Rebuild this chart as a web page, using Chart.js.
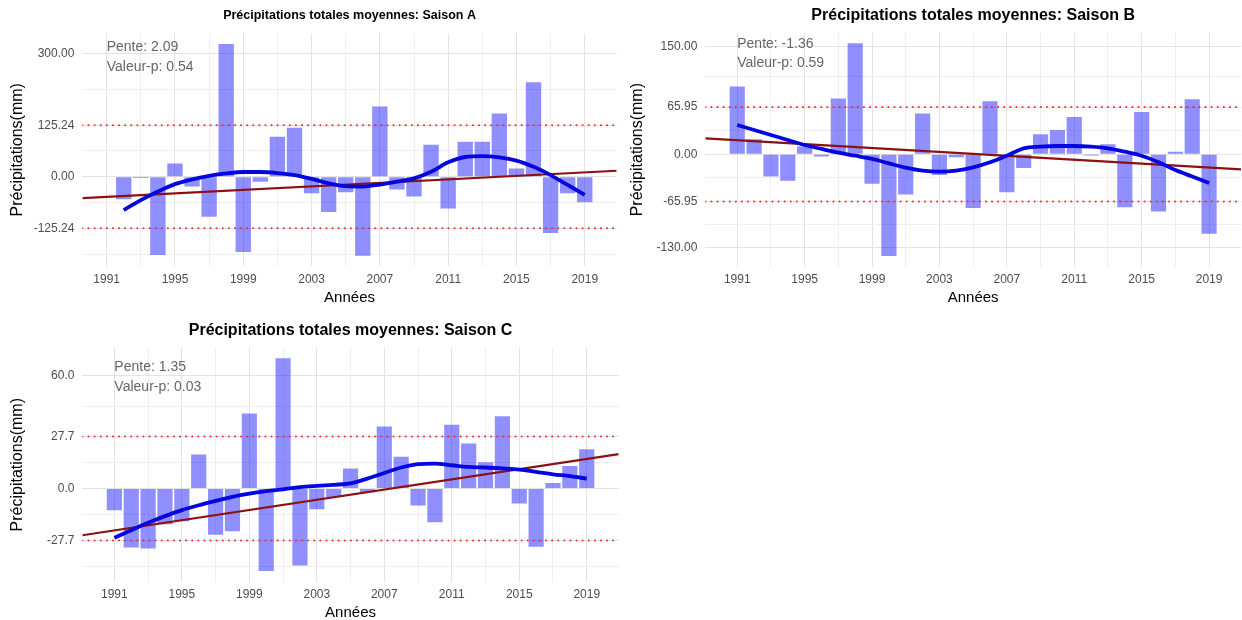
<!DOCTYPE html>
<html>
<head>
<meta charset="utf-8">
<script src="https://cdn.jsdelivr.net/npm/chart.js@4.4.1/dist/chart.umd.min.js"></script>
<style>
    body { margin: 0; background: #ffffff; }
    .panel { position: absolute; }
</style>
</head>
<body>
<div class="panel" style="left:0;top:0;width:620px;height:310px"><canvas id="chartA"></canvas></div>
<div class="panel" style="left:620px;top:0;width:622px;height:310px"><canvas id="chartB"></canvas></div>
<div class="panel" style="left:0;top:310px;width:620px;height:310px"><canvas id="chartC"></canvas></div>
<script>
// --- data ---
const yearsA = [1992, 1993, 1994, 1995, 1996, 1997, 1998, 1999, 2000, 2001, 2002, 2003, 2004, 2005,
    2006, 2007, 2008, 2009, 2010, 2011, 2012, 2013, 2014, 2015, 2016, 2017, 2018, 2019];
const yearsBC = [1991, 1992, 1993, 1994, 1995, 1996, 1997, 1998, 1999, 2000, 2001, 2002, 2003, 2004, 2005,
    2006, 2007, 2008, 2009, 2010, 2011, 2012, 2013, 2014, 2015, 2016, 2017, 2018, 2019];

const valuesA = [-55, -3, -190, 32, -24, -97, 323, -183, -12, 97, 119, -40, -86, -38,
    -192, 171, -31, -48, 78, -77, 85, 85, 154, 20, 230, -137, -40, -62];
const smoothA = [-81, -57, -36, -18, -6.5, 2, 8, 11.5, 11.5, 9, 4, -5, -16, -23,
    -24, -19, -12, -4, 12, 35, 48, 50, 47, 39, 24, 4, -20, -44];
const trendA = [-52, 14.6];
const thresholdA = 125.24;
const tickValuesA = [-125.24, 0, 125.24, 300];
const tickLabelsA = ['-125.24', '0.00', '125.24', '300.00'];
const notesA = ['Pente: 2.09', 'Valeur-p: 0.54'];

const valuesB = [94.6, 21, -31, -37, 11, -3, 78, 155, -41, -142, -56, 57, -29, -4, -75,
    74, -53, -19, 28, 34, 52, -1.8, 14, -74, 59, -80, 3.5, 77, -111];
const smoothB = [41, 34, 27, 20, 13, 7.5, 2.3, -2, -6.5, -12.6, -18.6, -22.8, -24.2, -22.8, -18.2,
    -11.2, -1.9, 8.4, 10.7, 11.6, 11.6, 10.7, 8.4, 3.7, -2, -11, -22, -31, -40];
const trendB = [22.3, -21];
const thresholdB = 65.95;
const tickValuesB = [-130, -65.95, 0, 65.95, 150];
const tickLabelsB = ['-130.00', '-65.95', '0.00', '65.95', '150.00'];
const notesB = ['Pente: -1.36', 'Valeur-p: 0.59'];

const valuesC = [-11.6, -31.5, -32, -19, -17.5, 18.2, -24.6, -22.8, 40, -44, 69.4, -41, -11, -4.5, 10.7,
    -2, 33, 17, -9, -18, 34, 24, 14, 38.5, -8, -31, 3, 12, 21];
const smoothC = [-26.3, -22.2, -18.3, -14.7, -11.5, -8.9, -6.6, -4.4, -2.7, -1.4, -0.4, 0.7, 1.4, 2, 2.7,
    5.3, 8.3, 11.2, 13, 13.3, 12.4, 11.5, 11.2, 10.7, 10.1, 8.9, 7.6, 6.6, 5.3];
const trendC = [-24.9, 18.3];
const thresholdC = 27.7;
const tickValuesC = [-27.7, 0, 27.7, 60];
const tickLabelsC = ['-27.7', '0.0', '27.7', '60.0'];
const notesC = ['Pente: 1.35', 'Valeur-p: 0.03'];

const xTickYears = [1991, 1995, 1999, 2003, 2007, 2011, 2015, 2019];

// --- styling ---
const FONT = "'Liberation Sans', Arial, sans-serif";
const GRID_MAJOR = '#e3e3e3';
const GRID_MINOR = '#efefef';

// ggplot-like 5% expansion of the data range
function expandRange(lo, hi) {
    const pad = (hi - lo) * 0.05;
    return [lo - pad, hi + pad];
}

// major ticks plus halfway minor ticks, kept inside the range
function withMinor(major, lo, hi) {
    const all = major.slice();
    for (let i = 0; i < major.length - 1; i++) all.push((major[i] + major[i + 1]) / 2);
    all.push(major[0] - (major[1] - major[0]) / 2);
    const n = major.length;
    all.push(major[n - 1] + (major[n - 1] - major[n - 2]) / 2);
    return all.filter(v => v >= lo && v <= hi).sort((a, b) => a - b);
}

const panelText = {
    id: 'panelText',
    afterDraw(chart, args, opts) {
        const {ctx, chartArea, scales} = chart;
        ctx.save();
        ctx.textBaseline = 'middle';
        ctx.textAlign = 'center';
        ctx.fillStyle = '#000000';
        ctx.font = `bold ${opts.titleSize}px ${FONT}`;
        ctx.fillText(opts.title, (chartArea.left + chartArea.right) / 2, opts.titleY);

        ctx.textAlign = 'left';
        ctx.fillStyle = '#666666';
        ctx.font = `14px ${FONT}`;
        const x = scales.x.getPixelForValue(opts.noteYear);
        opts.notes.forEach((t, i) => ctx.fillText(t, x, chartArea.top + opts.noteOffsets[i]));
        ctx.restore();
    }
};

function makePanel(id, p) {
    const ctx = document.getElementById(id)?.getContext('2d');
    if (!ctx) return;

    const xr = expandRange(Math.min(p.years[0] - 0.45, 1991), p.years[p.years.length - 1] + 0.45);
    const yr = expandRange(Math.min(...p.values), Math.max(...p.values));
    const xGrid = [];
    for (let v = 1991; v <= 2019; v += 2) xGrid.push(v);
    const yGrid = withMinor(p.tickValues, yr[0], yr[1]);

    const bars = p.years.map((y, i) => ({x: y, y: p.values[i]}));
    const smooth = p.years.map((y, i) => ({x: y, y: p.smooth[i]}));
    const trend = [{x: xr[0], y: p.trend[0]}, {x: xr[1], y: p.trend[1]}];
    const upper = [{x: xr[0], y: p.threshold}, {x: xr[1], y: p.threshold}];
    const lower = [{x: xr[0], y: -p.threshold}, {x: xr[1], y: -p.threshold}];

    const dotted = {
        type: 'line',
        borderColor: '#ee3030',
        borderWidth: 2,
        borderDash: [0.1, 6],
        borderCapStyle: 'round',
        pointRadius: 0,
        order: 2
    };

    return new Chart(ctx, {
        type: 'bar',
        data: {
            datasets: [
                {type: 'line', data: smooth, borderColor: '#0505e0', borderWidth: 3.8, pointRadius: 0,
                    tension: 0.4, cubicInterpolationMode: 'monotone', order: 0},
                {type: 'line', data: trend, borderColor: '#8b1010', borderWidth: 2.2, pointRadius: 0, order: 1},
                Object.assign({data: upper}, dotted),
                Object.assign({data: lower}, dotted),
                {type: 'bar', data: bars, backgroundColor: 'rgba(0, 0, 255, 0.44)', borderWidth: 0,
                    barPercentage: 0.9, categoryPercentage: 1.0, order: 5}
            ]
        },
        options: {
            responsive: true,
            maintainAspectRatio: false,
            animation: false,
            layout: {padding: {top: p.padTop, right: p.padRight, left: 0, bottom: 0}},
            plugins: {
                legend: {display: false},
                tooltip: {enabled: false},
                panelText: {
                    title: p.title, titleSize: p.titleSize, titleY: p.titleY,
                    notes: p.notes, noteYear: 1991, noteOffsets: p.noteOffsets
                }
            },
            scales: {
                x: {
                    type: 'linear',
                    min: xr[0],
                    max: xr[1],
                    offset: false,
                    afterBuildTicks: s => { s.ticks = xGrid.map(v => ({value: v})); },
                    afterFit: s => { s.height = p.xAxisHeight; },
                    ticks: {
                        autoSkip: false,
                        maxRotation: 0,
                        padding: 6,
                        color: '#4d4d4d',
                        font: {family: FONT, size: 12},
                        callback: v => xTickYears.includes(v) ? String(v) : ''
                    },
                    grid: {
                        offset: false,
                        drawTicks: false,
                        color: c => xTickYears.includes(c.tick?.value) ? GRID_MAJOR : GRID_MINOR,
                        lineWidth: 1
                    },
                    border: {display: false},
                    title: {
                        display: true,
                        text: 'Années',
                        color: '#000000',
                        font: {family: FONT, size: 15, lineHeight: 1},
                        padding: {top: 0, bottom: p.xTitlePad}
                    }
                },
                y: {
                    type: 'linear',
                    min: yr[0],
                    max: yr[1],
                    afterBuildTicks: s => { s.ticks = yGrid.map(v => ({value: v})); },
                    afterFit: s => { s.width = p.yAxisWidth; },
                    ticks: {
                        padding: 8,
                        color: '#4d4d4d',
                        font: {family: FONT, size: 12},
                        callback: v => {
                            const k = p.tickValues.indexOf(v);
                            return k >= 0 ? p.tickLabels[k] : '';
                        }
                    },
                    grid: {
                        drawTicks: false,
                        color: c => p.tickValues.includes(c.tick?.value) ? GRID_MAJOR : GRID_MINOR,
                        lineWidth: 1
                    },
                    border: {display: false},
                    title: {
                        display: true,
                        text: 'Précipitations(mm)',
                        color: '#000000',
                        font: {family: FONT, size: 16, lineHeight: 1.2},
                        padding: {top: 8.4, bottom: 0}
                    }
                }
            }
        },
        plugins: [panelText]
    });
}

makePanel('chartA', {
    years: yearsA, values: valuesA, smooth: smoothA, trend: trendA, threshold: thresholdA,
    tickValues: tickValuesA, tickLabels: tickLabelsA, notes: notesA,
    title: 'Précipitations totales moyennes: Saison A', titleSize: 12.5, titleY: 15.7,
    padTop: 33.3, padRight: 3.3, yAxisWidth: 82.4, xAxisHeight: 43.7, xTitlePad: 4.5,
    noteOffsets: [14, 33.4]
});

makePanel('chartB', {
    years: yearsBC, values: valuesB, smooth: smoothB, trend: trendB, threshold: thresholdB,
    tickValues: tickValuesB, tickLabels: tickLabelsB, notes: notesB,
    title: 'Précipitations totales moyennes: Saison B', titleSize: 16, titleY: 15.7,
    padTop: 32.7, padRight: 1, yAxisWidth: 85.3, xAxisHeight: 43.4, xTitlePad: 5,
    noteOffsets: [11.6, 30.6]
});

makePanel('chartC', {
    years: yearsBC, values: valuesC, smooth: smoothC, trend: trendC, threshold: thresholdC,
    tickValues: tickValuesC, tickLabels: tickLabelsC, notes: notesC,
    title: 'Précipitations totales moyennes: Saison C', titleSize: 16, titleY: 20.7,
    padTop: 37.7, padRight: 1.3, yAxisWidth: 82.4, xAxisHeight: 38.3, xTitlePad: 0,
    noteOffsets: [19.6, 39]
});
</script>
</body>
</html>
